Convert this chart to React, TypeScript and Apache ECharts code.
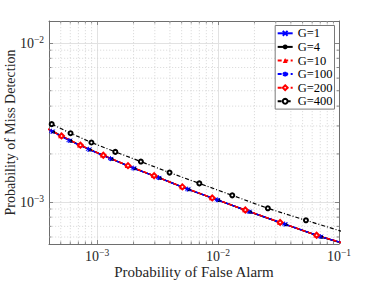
import React, { useEffect, useRef } from "react";
import * as echarts from "echarts";

const FONT = '"Liberation Serif", "DejaVu Serif", serif';

// Axis ranges (log scale)
const xRange = [4e-4, 0.1];
const yRange = [5.42e-4, 0.01374];
const xTickExps = [-3, -2, -1];
const yTickExps = [-3, -2];
const xMinor = [5e-4, 6e-4, 7e-4, 8e-4, 9e-4, 2e-3, 3e-3, 4e-3, 5e-3, 6e-3, 7e-3, 8e-3, 9e-3, 2e-2, 3e-2, 4e-2, 5e-2, 6e-2, 7e-2, 8e-2, 9e-2];
const yMinor = [6e-4, 7e-4, 8e-4, 9e-4, 2e-3, 3e-3, 4e-3, 5e-3, 6e-3, 7e-3, 8e-3, 9e-3];

const names = ["G=1", "G=4", "G=10", "G=100", "G=200", "G=400"];

const g1X = [4.29e-4, 5.97e-4, 8.64e-4, 1.311e-3, 2.025e-3, 3.27e-3, 5.67e-3, 1.0e-2, 1.823e-2, 3.6e-2, 7.09e-2, 0.141];
const g1Y = [2.768e-3, 2.423e-3, 2.132e-3, 1.861e-3, 1.622e-3, 1.413e-3, 1.197e-3, 1.025e-3, 8.65e-4, 7.21e-4, 6.02e-4, 5.17e-4];

const g4X = [4.35e-4, 6.05e-4, 8.75e-4, 1.325e-3, 2.05e-3, 3.31e-3, 5.74e-3, 1.012e-2, 1.845e-2, 3.64e-2, 7.17e-2, 0.143];
const g4Y = [2.762e-3, 2.417e-3, 2.126e-3, 1.856e-3, 1.617e-3, 1.409e-3, 1.193e-3, 1.021e-3, 8.62e-4, 7.18e-4, 6.0e-4, 5.15e-4];

const g10X = [3.9e-4, 4.99e-4, 7.15e-4, 1.105e-3, 1.775e-3, 2.92e-3, 5.0e-3, 8.82e-3, 1.659e-2, 3.22e-2, 6.45e-2, 0.128];
const g10Y = [2.873e-3, 2.604e-3, 2.277e-3, 1.969e-3, 1.692e-3, 1.461e-3, 1.243e-3, 1.06e-3, 8.89e-4, 7.43e-4, 6.17e-4, 5.28e-4];

const g100X = [4.2e-4, 5.85e-4, 8.5e-4, 1.29e-3, 1.99e-3, 3.22e-3, 5.6e-3, 9.85e-3, 1.8e-2, 3.55e-2, 7.0e-2, 0.139];
const g100Y = [2.78e-3, 2.432e-3, 2.14e-3, 1.868e-3, 1.628e-3, 1.418e-3, 1.201e-3, 1.029e-3, 8.68e-4, 7.24e-4, 6.04e-4, 5.19e-4];

const g200X = [3.95e-4, 5.08e-4, 7.28e-4, 1.125e-3, 1.8e-3, 2.96e-3, 5.07e-3, 8.95e-3, 1.68e-2, 3.26e-2, 6.53e-2, 0.13];
const g200Y = [2.866e-3, 2.596e-3, 2.27e-3, 1.963e-3, 1.688e-3, 1.457e-3, 1.24e-3, 1.057e-3, 8.87e-4, 7.41e-4, 6.15e-4, 5.27e-4];

const g400X = [4.21e-4, 6.03e-4, 8.97e-4, 1.414e-3, 2.3e-3, 3.97e-3, 7.0e-3, 1.31e-2, 2.58e-2, 5.33e-2, 0.1155];
const g400Y = [3.08e-3, 2.7e-3, 2.36e-3, 2.06e-3, 1.79e-3, 1.526e-3, 1.305e-3, 1.097e-3, 9.09e-4, 7.64e-4, 6.37e-4];

const zip = (xs: number[], ys: number[]) => xs.map((x, i) => [x, ys[i]]);

const AXIS_COLOR = "#6e6e6e";
const TEXT_COLOR = "#262626";

const expLabel = (exps: number[]) => (v: number) => {
  const e = Math.log10(v);
  const r = Math.round(e);
  if (Math.abs(e - r) > 1e-6 || exps.indexOf(r) < 0) return "";
  return `{b|10}{e|${r < 0 ? "\u2212" : ""}${Math.abs(r)}}`;
};

const richLabel = {
  b: { fontFamily: FONT, fontSize: 14, lineHeight: 15, verticalAlign: "bottom", color: TEXT_COLOR },
  e: { fontFamily: FONT, fontSize: 9.5, lineHeight: 9, verticalAlign: "top", color: TEXT_COLOR },
};

const crossPath = "path://M0,0L10,10M10,0L0,10";
const asteriskPath = "path://M5,0L5,10M0.7,2.5L9.3,7.5M0.7,7.5L9.3,2.5";

export default function App() {
  const ref = useRef<HTMLDivElement>(null);
  useEffect(() => {
    if (!ref.current) return;
    const chart = echarts.init(ref.current, null, { renderer: "svg" });

    const minorXRender = (params: any, api: any) => {
      const cs = params.coordSys;
      const px = api.coord([api.value(0), api.value(1)])[0];
      return {
        type: "group",
        silent: true,
        children: [
          { type: "line", shape: { x1: px, y1: cs.y, x2: px, y2: cs.y + cs.height }, style: { stroke: "#d4d4d4", lineWidth: 0.8, lineDash: [1.2, 1.8] } },
          { type: "line", shape: { x1: px, y1: cs.y, x2: px, y2: cs.y + 2.5 }, style: { stroke: AXIS_COLOR, lineWidth: 0.8 } },
          { type: "line", shape: { x1: px, y1: cs.y + cs.height, x2: px, y2: cs.y + cs.height - 2.5 }, style: { stroke: AXIS_COLOR, lineWidth: 0.8 } },
        ],
      };
    };
    const minorYRender = (params: any, api: any) => {
      const cs = params.coordSys;
      const py = api.coord([api.value(0), api.value(1)])[1];
      return {
        type: "group",
        silent: true,
        children: [
          { type: "line", shape: { x1: cs.x, y1: py, x2: cs.x + cs.width, y2: py }, style: { stroke: "#d4d4d4", lineWidth: 0.8, lineDash: [1.2, 1.8] } },
          { type: "line", shape: { x1: cs.x, y1: py, x2: cs.x + 2.5, y2: py }, style: { stroke: AXIS_COLOR, lineWidth: 0.8 } },
          { type: "line", shape: { x1: cs.x + cs.width, y1: py, x2: cs.x + cs.width - 2.5, y2: py }, style: { stroke: AXIS_COLOR, lineWidth: 0.8 } },
        ],
      };
    };

    const baseAxis = {
      type: "log",
      logBase: 10,
      axisLine: { show: true, lineStyle: { color: AXIS_COLOR, width: 1 } },
      axisTick: { show: true, inside: true, length: 4, lineStyle: { color: AXIS_COLOR, width: 0.8 } },
    };

    const option: any = {
      animation: false,
      backgroundColor: "#ffffff",
      grid: { left: 49, top: 21, width: 290, height: 223, containLabel: false, outerBoundsMode: "none" },
      legend: {
        data: names,
        orient: "vertical",
        right: 40.5,
        top: 25.5,
        itemWidth: 15,
        itemHeight: 6,
        itemGap: 0,
        padding: [1, 2, 1, 1.5],
        borderColor: "#7a7a7a",
        borderWidth: 1,
        borderRadius: 0,
        backgroundColor: "#ffffff",
        textStyle: { fontFamily: FONT, fontSize: 12.5, lineHeight: 13.6, color: "#000" },
      },
      xAxis: [
        {
          ...baseAxis,
          position: "bottom",
          min: xRange[0],
          max: xRange[1],
          name: "Probability of False Alarm",
          nameLocation: "middle",
          nameGap: 20,
          nameMoveOverlap: false,
          nameTextStyle: { fontFamily: FONT, fontSize: 15, color: TEXT_COLOR, verticalAlign: "top" },
          axisLabel: { show: true, margin: 4, formatter: expLabel(xTickExps), rich: richLabel, showMinLabel: false },
          splitLine: { show: true, lineStyle: { color: "#e2e2e2", width: 1 } },
        },
        {
          ...baseAxis,
          position: "top",
          min: xRange[0],
          max: xRange[1],
          axisLabel: { show: false },
          splitLine: { show: false },
        },
      ],
      yAxis: [
        {
          ...baseAxis,
          position: "left",
          min: yRange[0],
          max: yRange[1],
          name: "Probability of Miss Detection",
          nameLocation: "middle",
          nameGap: 32,
          nameMoveOverlap: false,
          nameTextStyle: { fontFamily: FONT, fontSize: 14, color: TEXT_COLOR },
          axisLabel: { show: true, margin: 5, formatter: expLabel(yTickExps), rich: richLabel, showMinLabel: false, showMaxLabel: false },
          splitLine: { show: true, lineStyle: { color: "#e2e2e2", width: 1 } },
        },
        {
          ...baseAxis,
          position: "right",
          min: yRange[0],
          max: yRange[1],
          axisLabel: { show: false },
          splitLine: { show: false },
        },
      ],
      series: [
        {
          type: "custom",
          name: "minorX",
          z: 1,
          silent: true,
          renderItem: minorXRender,
          data: xMinor.map((v) => [v, 1e-3]),
          encode: { x: 0, y: 1 },
        },
        {
          type: "custom",
          name: "minorY",
          z: 1,
          silent: true,
          renderItem: minorYRender,
          data: yMinor.map((v) => [1e-3, v]),
          encode: { x: 0, y: 1 },
        },
        {
          name: "G=1",
          type: "line",
          data: zip(g1X, g1Y),
          symbol: crossPath,
          symbolSize: 4,
          itemStyle: { color: "#0000ff", borderColor: "#0000ff", borderWidth: 1 },
          lineStyle: { color: "#0000ff", width: 1.4, type: "solid" },
          z: 3,
        },
        {
          name: "G=4",
          type: "line",
          data: zip(g4X, g4Y),
          symbol: "circle",
          symbolSize: 3.5,
          itemStyle: { color: "#000000" },
          lineStyle: { color: "#000000", width: 1.4, type: "solid" },
          z: 3,
        },
        {
          name: "G=10",
          type: "line",
          data: zip(g10X, g10Y),
          symbol: "triangle",
          symbolSize: 5,
          itemStyle: { color: "#ff0000" },
          lineStyle: { color: "#ff0000", width: 1.4, type: [4, 2.5] },
          z: 3,
        },
        {
          name: "G=100",
          type: "line",
          data: zip(g100X, g100Y),
          symbol: asteriskPath,
          symbolSize: 5,
          itemStyle: { color: "#0000ff", borderColor: "#0000ff", borderWidth: 1 },
          lineStyle: { color: "#0000ff", width: 1.4, type: [4, 2.5] },
          z: 3,
        },
        {
          name: "G=200",
          type: "line",
          data: zip(g200X, g200Y),
          symbol: "emptyDiamond",
          symbolSize: 5,
          itemStyle: { color: "#ff0000", borderColor: "#ff0000", borderWidth: 1 },
          lineStyle: { color: "#ff0000", width: 1.4, type: [4, 2.5] },
          z: 3,
        },
        {
          name: "G=400",
          type: "line",
          data: zip(g400X, g400Y),
          symbol: "emptyCircle",
          symbolSize: 4,
          itemStyle: { color: "#000000", borderColor: "#000000", borderWidth: 1 },
          lineStyle: { color: "#000000", width: 1.2, type: [4, 2, 1, 2] },
          z: 3,
        },
      ],
    };
    chart.setOption(option);
    return () => chart.dispose();
  }, []);

  return (
    <div
      ref={ref}
      style={{ position: "absolute", left: 0, top: 0, width: 375, height: 281, background: "#fff" }}
    />
  );
}
